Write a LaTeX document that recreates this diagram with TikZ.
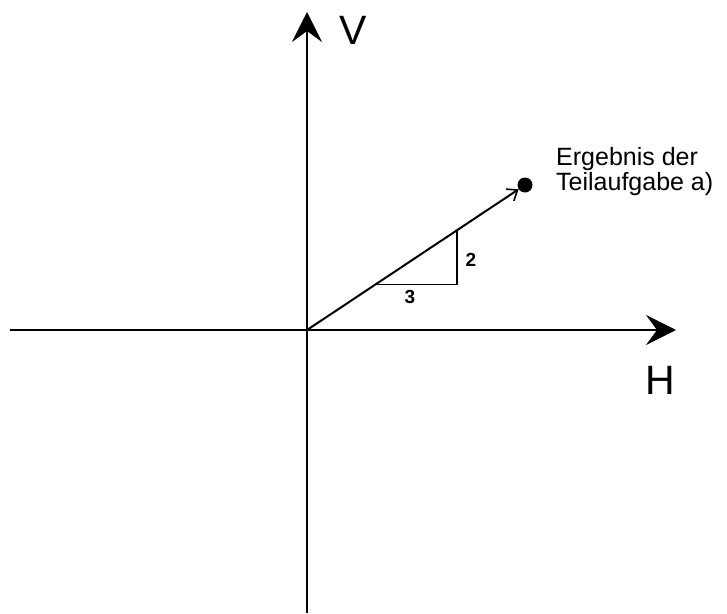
\documentclass[tikz,border=0pt]{standalone}
\usepackage{fontspec}
\setmainfont{Liberation Sans}
\usetikzlibrary{arrows.meta,positioning}

\begin{document}
\begin{tikzpicture}[x=1pt,y=-1pt,
 axis/.style={line width=2pt,-{Stealth[length=30pt,width=30pt,inset=11pt]}},
 vec/.style={line width=2pt,-{Straight Barb[length=9pt,width=14pt,line width=1.6pt]}},
 leg/.style={line width=1.1pt},
 dot/.style={circle,fill=black,inner sep=0pt,minimum size=15pt},
 big/.style={font=\fontsize{41}{41}\selectfont,inner sep=0pt},
 num/.style={font=\fontsize{19}{19}\selectfont\bfseries,inner sep=0pt},
 note/.style={font=\fontsize{25}{25}\selectfont,align=left,inner sep=0pt}]
 \useasboundingbox (0,0) rectangle (727,613);
 % axes
 \coordinate (o) at (307,330);
 \coordinate (xl) at (10,330);
 \coordinate (xr) at (676,330);
 \coordinate (yb) at (307,613);
 \coordinate (yt) at (307,12);
 \draw[axis] (xl) -- (xr);
 \draw[axis] (yb) -- (yt);
 \node[big] (v) at (353,30) {V};
 \node[big] (h) at (660,380) {H};
 % result of part a)
 \node[dot] (p) at (525,185) {};
 \draw[vec] (o) -- (p);
 \node[note,anchor=west] (e) at (556,172) {Ergebnis der\\Teilaufgabe a)};
 % slope triangle
 \coordinate (t1) at (377,284.5);
 \coordinate (t2) at (457,284.5);
 \coordinate (t3) at (457,231);
 \draw[leg] (t1) -- (t2) -- (t3);
 \node[num] (n3) at (410,297) {3};
 \node[num] (n2) at (471,260) {2};
\end{tikzpicture}
\end{document}
